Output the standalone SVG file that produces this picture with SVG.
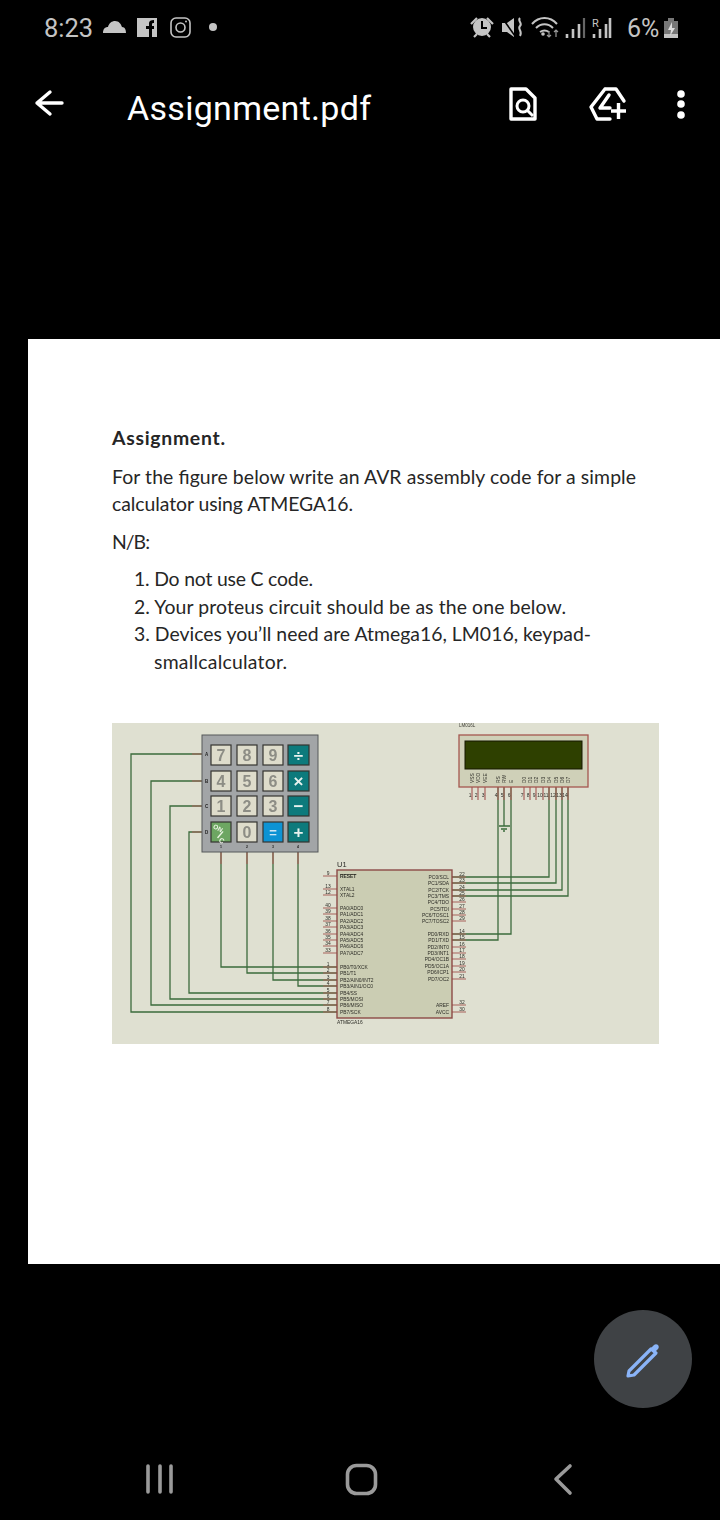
<svg xmlns="http://www.w3.org/2000/svg" width="720" height="1520" viewBox="0 0 720 1520">
<defs>
<style>
.st{fill:#c4c4c4;font-family:Roboto,"Liberation Sans",sans-serif}
.ic{fill:none;stroke:#fff;stroke-width:3.4;stroke-linejoin:round;stroke-linecap:round}
.sg{fill:none;stroke:#c4c4c4;stroke-width:2.6}
.nav{fill:none;stroke:#9a9a9a;stroke-width:3.6;stroke-linecap:round;stroke-linejoin:round}
.body{font-family:Lato,"Liberation Sans",sans-serif;font-size:19.4px;fill:#262626}
.w{fill:none;stroke:#3c6b3c;stroke-width:1.3}
.p{stroke:#a8605a;stroke-width:1.2;fill:none}
.key{stroke:#35352f;stroke-width:1.2}
.kn{fill:#dedccb}
.kt{fill:#0c7a7c}
.d{font-family:"Liberation Sans",sans-serif;font-size:16px;font-weight:bold;fill:#8d8d85;text-anchor:middle}
.o{font-family:"Liberation Sans",sans-serif;font-size:17px;font-weight:bold;fill:#e8f2ef;text-anchor:middle}
.t{font-family:"Liberation Sans",sans-serif;font-size:4.9px;fill:#2c2c26}
.r{text-anchor:end}
.n{font-family:"Liberation Sans",sans-serif;font-size:4.9px;fill:#2c2c26;text-anchor:middle}
.bl{filter:url(#blur)}
</style>
<filter id="blur" x="0" y="0" width="100%" height="100%"><feGaussianBlur stdDeviation="0.5"/></filter>
</defs>
<rect width="720" height="1520" fill="#000"/>

<g id="status-bar">
<text class="st" x="44" y="37" font-size="25.500">8:23</text>
<path d="M103 33c0-4 2-6 5-6 1-4 4-6 7-6 4 0 6 3 7 6 3 0 4 3 4 6z" fill="#c4c4c4"/>
<rect x="137" y="18" width="20" height="19" fill="#c4c4c4"/>
<path d="M149 37v-8h-3v-3h3v-3c0-2 2-3 5-3v3c-2 0-2 0-2 3h2v3h-2v8z" fill="#000"/>
<rect x="171" y="18" width="19" height="19" rx="5" fill="none" stroke="#c4c4c4" stroke-width="1.600"/>
<circle cx="180.500" cy="27.500" r="4.500" fill="none" stroke="#c4c4c4" stroke-width="1.600"/>
<circle cx="186" cy="21.500" r="1" fill="#c4c4c4"/>
<circle cx="213" cy="27" r="4" fill="#c4c4c4"/>
<circle cx="482" cy="27" r="9" fill="#c4c4c4"/>
<path d="M482 21v7h5" stroke="#000" stroke-width="2" fill="none"/>
<path d="M471 24l6-6M493 24l-6-6M474 37l3-3M490 37l-3-3" stroke="#c4c4c4" stroke-width="2.200" fill="none"/>
<path d="M502 23h5l7-5v19l-7-5h-5z" fill="#c4c4c4"/>
<path d="M503 19l12 17" stroke="#000" stroke-width="1.500"/>
<path d="M520 18c-3 3 3 5 0 8s3 5 0 10" stroke="#c4c4c4" stroke-width="2" fill="none"/>
<path d="M532 24c7-8 18-8 25 0M536 28c5-5 12-5 17 0M540 32c3-2 6-2 9 0" fill="none" stroke="#c4c4c4" stroke-width="2"/>
<circle cx="543" cy="34" r="1.800" fill="#c4c4c4"/>
<path d="M549 31v6M547 35l2 2 2-2M556 37v-7M554 32l2-2 2 2" fill="none" stroke="#999" stroke-width="1.200"/>
<path d="M567 38v-4M573 38v-9M579 38v-14" class="sg"/>
<path d="M584 38v-20" stroke="#666" stroke-width="2.200"/>
<text class="st" x="592" y="27" font-size="11">R</text>
<path d="M594 38v-4M600 38v-9M606 38v-14M610 38v-20" class="sg"/>
<text class="st" x="627" y="37" font-size="25">6%</text>
<rect x="664" y="21" width="14" height="17" fill="#777"/>
<rect x="668" y="18" width="6" height="3" fill="#777"/>
<rect x="664" y="34" width="14" height="4" fill="#c4c4c4"/>
<path d="M672 22l-4 8h3l-1 6 5-8h-3z" fill="#ddd"/>
</g>

<g id="app-bar">
<path class="ic" d="M37 103h25M50 92l-13 11 13 11" stroke-width="3"/>
<text x="127" y="120" font-family="Roboto,'Liberation Sans',sans-serif" font-size="34" fill="#fff" textLength="244">Assignment.pdf</text>
<path class="ic" d="M511 89h15l9 9v21h-24z"/>
<circle cx="523" cy="106" r="6" fill="none" stroke="#fff" stroke-width="3"/>
<path d="M527 110l6 6" stroke="#fff" stroke-width="3"/>
<path class="ic" d="M605 89h11l8 12M605 89l-14 18 6 12h13M609 95l-9 13h10" stroke-width="3"/>
<path d="M611 111h15M618.500 103v16" stroke="#fff" stroke-width="3.400"/>
<circle cx="681" cy="94" r="3.800" fill="#fff"/><circle cx="681" cy="104" r="3.800" fill="#fff"/><circle cx="681" cy="115" r="3.800" fill="#fff"/>
</g>

<rect id="page" x="28" y="339" width="692" height="925" fill="#fff"/>

<g id="assignment-text">
<text class="body" x="112" y="445" font-weight="700" textLength="113">Assignment.</text>
<text class="body" x="112" y="484" textLength="524">For the figure below write an AVR assembly code for a simple</text>
<text class="body" x="112" y="511" textLength="241">calculator using ATMEGA16.</text>
<text class="body" x="112" y="549" textLength="38">N/B:</text>
<text class="body" x="134" y="586" textLength="179">1. Do not use C code.</text>
<text class="body" x="134" y="614" textLength="432">2. Your proteus circuit should be as the one below.</text>
<text class="body" x="134" y="641" textLength="457">3. Devices you’ll need are Atmega16, LM016, keypad-</text>
<text class="body" x="154" y="669" textLength="133">smallcalculator.</text>
</g>

<g id="schematic" class="bl">
<rect x="112" y="723" width="547" height="321" fill="#dfe0d1"/>

<g id="connectors">
<path class="w" d="M202 754H131V1012H337M202 781H151V1005H337M202 806H170V999H337M202 832H189V993H337"/>
<path class="w" d="M221 852V967H337M247 852V973H337M273 852V980H337M298 852V986H337"/>
<path class="w" d="M452 877H549V787M452 883H556V787M452 890H562V787M452 896H568V787"/>
<path class="w" d="M452 934H511V787M452 940H498V787M504 787V826"/>
<path class="w" d="M499 826H510M501 829H507M503 831H505"/>
</g>

<g id="keypad">
<path class="p" d="M192 754H202M192 781H202M192 806H202M192 832H202M221 852V864M247 852V864M273 852V864M298 852V864" stroke-width="1.500"/>
<rect x="202" y="735" width="116" height="117" fill="#a2a5a7" stroke="#55585a" stroke-width="1"/>
<g font-family="Liberation Sans,sans-serif" font-size="4.500" fill="#222" font-weight="bold">
<text x="205" y="756">A</text><text x="205" y="783">B</text><text x="205" y="808">C</text><text x="205" y="834">D</text>
<text x="220" y="848" font-size="3.500">1</text><text x="246" y="848" font-size="3.500">2</text><text x="272" y="848" font-size="3.500">3</text><text x="297" y="848" font-size="3.500">4</text>
</g>
<rect class="key kn" x="211" y="745" width="20" height="20"/><text class="d" x="221" y="761">7</text>
<rect class="key kn" x="237" y="745" width="20" height="20"/><text class="d" x="247" y="761">8</text>
<rect class="key kn" x="263" y="745" width="20" height="20"/><text class="d" x="273" y="761">9</text>
<rect class="key kt" x="288" y="745" width="21" height="20"/><text class="o" x="298.500" y="761">÷</text>
<rect class="key kn" x="211" y="771" width="20" height="20"/><text class="d" x="221" y="787">4</text>
<rect class="key kn" x="237" y="771" width="20" height="20"/><text class="d" x="247" y="787">5</text>
<rect class="key kn" x="263" y="771" width="20" height="20"/><text class="d" x="273" y="787">6</text>
<rect class="key kt" x="288" y="771" width="21" height="20"/><text class="o" x="298.500" y="787">×</text>
<rect class="key kn" x="211" y="796" width="20" height="20"/><text class="d" x="221" y="812">1</text>
<rect class="key kn" x="237" y="796" width="20" height="20"/><text class="d" x="247" y="812">2</text>
<rect class="key kn" x="263" y="796" width="20" height="20"/><text class="d" x="273" y="812">3</text>
<rect class="key kt" x="288" y="796" width="21" height="20"/><text class="o" x="298.500" y="812">−</text>
<rect class="key" x="211" y="822" width="20" height="20" fill="#6da662"/>
<text font-family="Liberation Sans,sans-serif" font-weight="bold" fill="#eef5e6" font-size="6.500" x="213" y="830" transform="rotate(30 217 828)">ON<tspan font-size="11" dx="-1" dy="6">/</tspan><tspan font-size="7" dx="0" dy="3">C</tspan></text>
<rect class="key kn" x="237" y="822" width="20" height="20"/><text class="d" x="247" y="838">0</text>
<rect class="key" x="263" y="822" width="20" height="20" fill="#0f93d4"/><text class="o" x="273" y="837" style="fill:#cfe6f5;font-size:13px">=</text>
<rect class="key kt" x="288" y="822" width="21" height="20"/><text class="o" x="298.500" y="838">+</text>
</g>

<g id="lcd">
<text x="459" y="727" font-family="Liberation Sans,sans-serif" font-size="4.500" fill="#3c3c34">LM016L</text>
<path class="p" d="M472 787V800M478 787V800M485 787V800M498 787V800M504 787V800M511 787V800M524 787V800M530 787V800M536 787V800M543 787V800M549 787V800M556 787V800M562 787V800M568 787V800" stroke-width="1.400"/>
<rect x="459" y="735" width="129" height="52" fill="#cfd0b8" stroke="#a5574f" stroke-width="1.300"/>
<rect x="465" y="741" width="117" height="28" fill="#2e3f02" stroke="#141a00"/>
<g class="t">
<text transform="translate(473.700 783) rotate(-90)">VSS</text><text transform="translate(479.700 783) rotate(-90)">VDD</text><text transform="translate(486.700 783) rotate(-90)">VEE</text>
<text transform="translate(499.700 783) rotate(-90)">RS</text><text transform="translate(505.700 783) rotate(-90)">RW</text><text transform="translate(512.700 783) rotate(-90)">E</text>
<text transform="translate(525.700 783) rotate(-90)">D0</text><text transform="translate(531.700 783) rotate(-90)">D1</text><text transform="translate(537.700 783) rotate(-90)">D2</text><text transform="translate(544.700 783) rotate(-90)">D3</text><text transform="translate(550.700 783) rotate(-90)">D4</text><text transform="translate(557.700 783) rotate(-90)">D5</text><text transform="translate(563.700 783) rotate(-90)">D6</text><text transform="translate(569.700 783) rotate(-90)">D7</text>
</g>
<g class="n">
<text x="470" y="797">1</text><text x="476" y="797">2</text><text x="483" y="797">3</text><text x="496" y="797">4</text><text x="502" y="797">5</text><text x="509" y="797">6</text><text x="522" y="797">7</text><text x="528" y="797">8</text><text x="534" y="797">9</text><text x="540" y="797">10</text><text x="546" y="797">11</text><text x="553" y="797">12</text><text x="559" y="797">13</text><text x="565" y="797">14</text>
</g>
</g>

<g id="atmega16">
<path class="p" d="M323 876H337M323 889H337M323 895H337M323 908H337M323 914H337M323 921H337M323 927H337M323 934H337M323 940H337M323 946H337M323 953H337M323 967H337M323 973H337M323 980H337M323 986H337M323 993H337M323 999H337M323 1005H337M323 1012H337" stroke-width="1.400"/>
<path class="p" d="M452 877H466M452 883H466M452 890H466M452 896H466M452 902H466M452 909H466M452 915H466M452 921H466M452 934H466M452 940H466M452 947H466M452 953H466M452 959H466M452 966H466M452 972H466M452 979H466M452 1005H466M452 1012H466" stroke-width="1.400"/>
<rect x="337" y="870" width="115" height="148" fill="#cbcdb3" stroke="#8c4a46" stroke-width="1.400"/>
<text x="337" y="867" font-family="Liberation Sans,sans-serif" font-size="7.500" fill="#2c2c28">U1</text>
<text class="t" x="337" y="1024">ATMEGA16</text>
<g class="t">
<text x="340" y="878" text-decoration="overline" font-weight="bold">RESET</text><text x="340" y="891">XTAL1</text><text x="340" y="897">XTAL2</text>
<text x="340" y="910">PA0/ADC0</text><text x="340" y="916">PA1/ADC1</text><text x="340" y="923">PA2/ADC2</text><text x="340" y="929">PA3/ADC3</text><text x="340" y="936">PA4/ADC4</text><text x="340" y="942">PA5/ADC5</text><text x="340" y="948">PA6/ADC6</text><text x="340" y="955">PA7/ADC7</text>
<text x="340" y="969">PB0/T0/XCK</text><text x="340" y="975">PB1/T1</text><text x="340" y="982">PB2/AIN0/INT2</text><text x="340" y="988">PB3/AIN1/OC0</text><text x="340" y="995">PB4/SS</text><text x="340" y="1001">PB5/MOSI</text><text x="340" y="1007">PB6/MISO</text><text x="340" y="1014">PB7/SCK</text>
</g>
<g class="t r">
<text x="449" y="879">PC0/SCL</text><text x="449" y="885">PC1/SDA</text><text x="449" y="892">PC2/TCK</text><text x="449" y="898">PC3/TMS</text><text x="449" y="904">PC4/TDO</text><text x="449" y="911">PC5/TDI</text><text x="449" y="917">PC6/TOSC1</text><text x="449" y="923">PC7/TOSC2</text>
<text x="449" y="936">PD0/RXD</text><text x="449" y="942">PD1/TXD</text><text x="449" y="949">PD2/INT0</text><text x="449" y="955">PD3/INT1</text><text x="449" y="961">PD4/OC1B</text><text x="449" y="968">PD5/OC1A</text><text x="449" y="974">PD6/ICP1</text><text x="449" y="981">PD7/OC2</text>
<text x="449" y="1007">AREF</text><text x="449" y="1014">AVCC</text>
</g>
<g class="n">
<text x="328" y="875">9</text><text x="328" y="888">13</text><text x="328" y="894">12</text><text x="328" y="907">40</text><text x="328" y="913">39</text><text x="328" y="920">38</text><text x="328" y="926">37</text><text x="328" y="933">36</text><text x="328" y="939">35</text><text x="328" y="945">34</text><text x="328" y="952">33</text>
<text x="328" y="966">1</text><text x="328" y="972">2</text><text x="328" y="979">3</text><text x="328" y="985">4</text><text x="328" y="992">5</text><text x="328" y="998">6</text><text x="328" y="1004">7</text><text x="328" y="1011">8</text>
<text x="462" y="876">22</text><text x="462" y="882">23</text><text x="462" y="889">24</text><text x="462" y="895">25</text><text x="462" y="901">26</text><text x="462" y="908">27</text><text x="462" y="914">28</text><text x="462" y="920">29</text>
<text x="462" y="933">14</text><text x="462" y="939">15</text><text x="462" y="946">16</text><text x="462" y="952">17</text><text x="462" y="958">18</text><text x="462" y="965">19</text><text x="462" y="971">20</text><text x="462" y="978">21</text>
<text x="462" y="1004">32</text><text x="462" y="1011">30</text>
</g>
</g>
</g>

<g id="fab">
<circle cx="643" cy="1359" r="49" fill="#3f4245"/>
<path d="M629 1371l22-22 5 4-22 22-6 1z" fill="none" stroke="#8ab4f8" stroke-width="3.200" stroke-linejoin="round"/>
<path d="M650 1349l4-4c1-1 3-1 4 0s1 3 0 4l-4 4z" fill="#8ab4f8"/>
</g>

<g id="nav-bar">
<path class="nav" d="M148 1466v26M160 1466v26M171 1466v26"/>
<rect x="347.500" y="1465.500" width="28" height="28" rx="9" class="nav"/>
<path class="nav" d="M570 1466l-14 13 14 14"/>
</g>
</svg>
